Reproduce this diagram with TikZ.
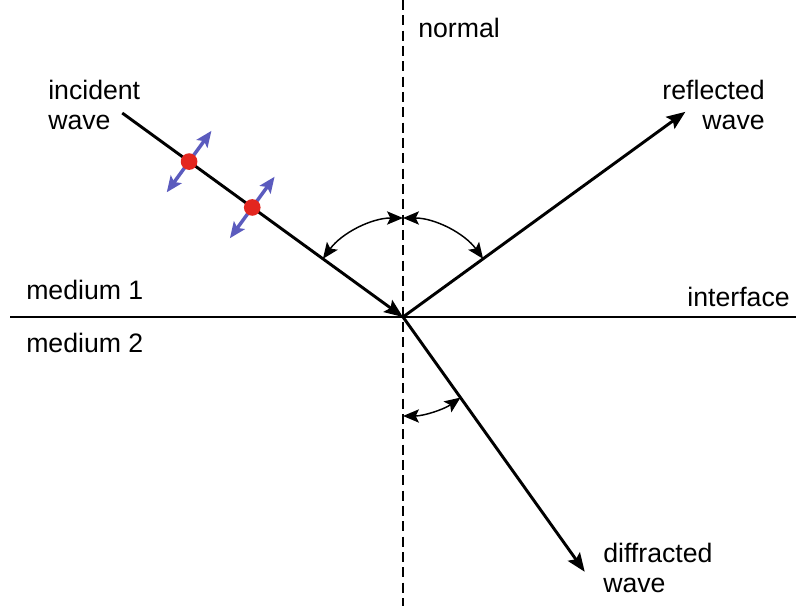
\documentclass[tikz,border=0pt]{standalone}
\usepackage{fontspec}
\setmainfont{Liberation Sans}
\usetikzlibrary{arrows.meta,calc}
\definecolor{wvInk}{HTML}{000000}
\definecolor{wvRed}{HTML}{E3261F}
\definecolor{wvBlue}{HTML}{5B5BBE}
\tikzset{
  ray/.style={-{Stealth[length=14pt,width=11pt,inset=2.5pt]}, line width=2.2pt, draw=wvInk},
  bdry/.style={line width=2.2pt, draw=wvInk},
  nrm/.style={line width=1.6pt, draw=wvInk, dash pattern=on 7.5pt off 4pt},
  ang/.style={{Stealth[length=12pt,width=10pt,inset=2.5pt]}-{Stealth[length=12pt,width=10pt,inset=2.5pt]}, line width=1.1pt, draw=wvInk},
  pol/.style={{Stealth[length=12pt,width=10pt,inset=2.5pt]}-{Stealth[length=12pt,width=10pt,inset=2.5pt]}, line width=2.6pt, draw=wvBlue},
  edot/.style={circle, fill=wvRed, inner sep=0pt, minimum size=12.5pt},
  lbl/.style={inner sep=0pt, font=\fontsize{20}{22.5}\selectfont, align=left},
}

\begin{document}
\begin{tikzpicture}[x=0.75pt,y=0.75pt]
    \useasboundingbox (0,0) rectangle (798,606);
    % geometry
    \coordinate (O) at (403,289);
    \coordinate (ntop) at (403,606);
    \coordinate (nbot) at (403,0);
    \coordinate (ifL) at (10,289);
    \coordinate (ifR) at (796,289);
    \coordinate (inc) at ($(O)+(144:347)$);
    \coordinate (refl) at ($(O)+(36:349)$);
    \coordinate (diff) at ($(O)+(-54.5:313)$);
    \draw[nrm] (ntop) -- (nbot);
    \draw[bdry] (ifL) -- (ifR);
    \draw[ray] (inc) -- (O); \draw[ray] (O) -- (refl); \draw[ray] (O) -- (diff);
    % angles
    \draw[ang] ($(O)+(144:99)$) arc[start angle=144, end angle=90, radius=74.25pt];
    \draw[ang] ($(O)+(90:99)$) arc[start angle=90, end angle=36, radius=74.25pt];
    \draw[ang] ($(O)+(-90:99)$) arc[start angle=-90, end angle=-54.5, radius=74.25pt];
    % polarisation
    \coordinate (d1) at ($(inc)!0.238!(O)$);
    \coordinate (d2) at ($(inc)!0.463!(O)$);
    \draw[pol] ($(d1)+(234:38)$) -- ($(d1)+(54:38)$);
    \draw[pol] ($(d2)+(234:38)$) -- ($(d2)+(54:38)$);
    \node[edot] (p1) at (d1) {};
    \node[edot] (p2) at (d2) {};
    % labels
    \node[lbl, anchor=north west] (lInc) at (48,526) {incident\\wave};
    \node[lbl, anchor=north east, align=right] (lRefl) at (765,526) {reflected\\wave};
    \node[lbl, anchor=north west] (lDiff) at (603,63) {diffracted\\wave};
    \node[lbl, anchor=base west] (lNorm) at (418,568) {normal};
    \node[lbl, anchor=base west] (lM1) at (26,306) {medium 1};
    \node[lbl, anchor=base west] (lM2) at (26,253) {medium 2};
    \node[lbl, anchor=base east] (lIf) at (790,299) {interface};
\end{tikzpicture}
\end{document}
